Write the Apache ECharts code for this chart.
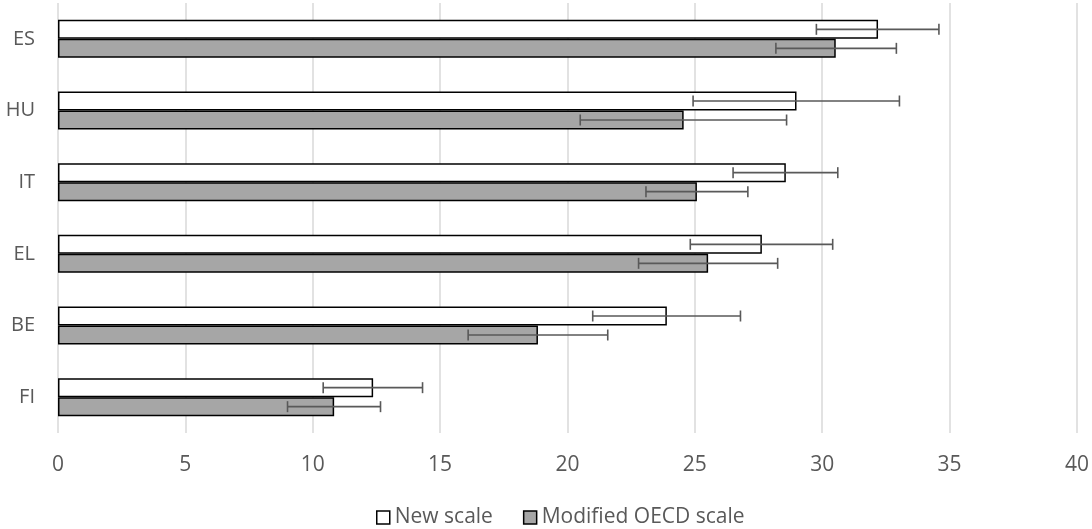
<!DOCTYPE html>
<html lang="en">
<head>
  <meta charset="UTF-8">
  <title>New scale vs Modified OECD scale</title>
  <script src="https://cdn.jsdelivr.net/npm/echarts@6/dist/echarts.min.js"></script>
</head>
<body style="margin:0">
  <div id="chart" style="width: 1092px; height: 529px;"></div>
  <script>
    // categories bottom -> top
    const countries = ['FI', 'BE', 'EL', 'IT', 'HU', 'ES']

    const newScale = [12.37, 23.9, 27.63, 28.57, 28.99, 32.19]
    const newLow = [10.41, 20.99, 24.82, 26.5, 24.93, 29.77]
    const newHigh = [14.31, 26.79, 30.41, 30.61, 33.03, 34.58]

    const oecdScale = [10.84, 18.84, 25.52, 25.08, 24.56, 30.53]
    const oecdLow = [9.01, 16.1, 22.79, 23.08, 20.5, 28.18]
    const oecdHigh = [12.66, 21.58, 28.25, 27.08, 28.6, 32.91]

    const xTicks = [0, 5, 10, 15, 20, 25, 30, 35, 40]

    const textColor = '#595959'
    const font = '"Open Sans", sans-serif'
    const barW = 19

    const chart = echarts.init(document.getElementById('chart'))

    // error bar with caps, shifted up/down to sit on its own bar
    function errorBar(offset) {
      return function (params, api) {
        const cat = api.value(2)
        const a = api.coord([api.value(0), cat])
        const b = api.coord([api.value(1), cat])
        const y = a[1] + offset
        const cap = 5.5
        const style = { stroke: '#595959', lineWidth: 1.6 }
        return {
          type: 'group',
          children: [
            { type: 'line', shape: { x1: a[0], y1: y, x2: b[0], y2: y }, style },
            { type: 'line', shape: { x1: a[0], y1: y - cap, x2: a[0], y2: y + cap }, style },
            { type: 'line', shape: { x1: b[0], y1: y - cap, x2: b[0], y2: y + cap }, style }
          ]
        }
      }
    }

    const option = {
      animation: false,
      textStyle: { fontFamily: font },
      grid: { left: 58, right: 14.5, top: 3, bottom: 96 },
      legend: {
        bottom: -4,
        left: 371,
        itemWidth: 13,
        itemHeight: 13,
        itemGap: 30,
        textStyle: { color: textColor, fontSize: 21, fontFamily: font },
        data: [
          { name: 'New scale', icon: 'rect', itemStyle: { color: '#fff', borderColor: '#000', borderWidth: 1.5 } },
          { name: 'Modified OECD scale', icon: 'rect', itemStyle: { color: '#a6a6a6', borderColor: '#000', borderWidth: 1.5 } }
        ]
      },
      xAxis: {
        type: 'value',
        min: xTicks[0],
        max: xTicks[xTicks.length - 1],
        interval: 5,
        axisLine: { show: false },
        axisTick: { show: false },
        axisLabel: { color: textColor, fontSize: 21, margin: 22 },
        splitLine: { lineStyle: { color: '#d9d9d9', width: 1.5 } }
      },
      yAxis: {
        type: 'category',
        data: countries,
        axisLine: { show: false },
        axisTick: { show: false },
        axisLabel: { color: textColor, fontSize: 20, margin: 23 }
      },
      series: [
        {
          name: 'New scale',
          type: 'bar',
          data: newScale,
          barWidth: barW,
          barGap: '0%',
          itemStyle: { color: '#ffffff', borderColor: '#000', borderWidth: 1.5 }
        },
        {
          name: 'Modified OECD scale',
          type: 'bar',
          data: oecdScale,
          barWidth: barW,
          barGap: '0%',
          itemStyle: { color: '#a6a6a6', borderColor: '#000', borderWidth: 1.5 }
        },
        {
          name: 'New scale err',
          type: 'custom',
          renderItem: errorBar(-barW / 2),
          encode: { x: [0, 1], y: 2 },
          data: countries.map((c, i) => [newLow[i], newHigh[i], i]),
          z: 10
        },
        {
          name: 'Modified OECD scale err',
          type: 'custom',
          renderItem: errorBar(barW / 2),
          encode: { x: [0, 1], y: 2 },
          data: countries.map((c, i) => [oecdLow[i], oecdHigh[i], i]),
          z: 10
        }
      ]
    }

    chart.setOption(option)
  </script>
</body>
</html>
